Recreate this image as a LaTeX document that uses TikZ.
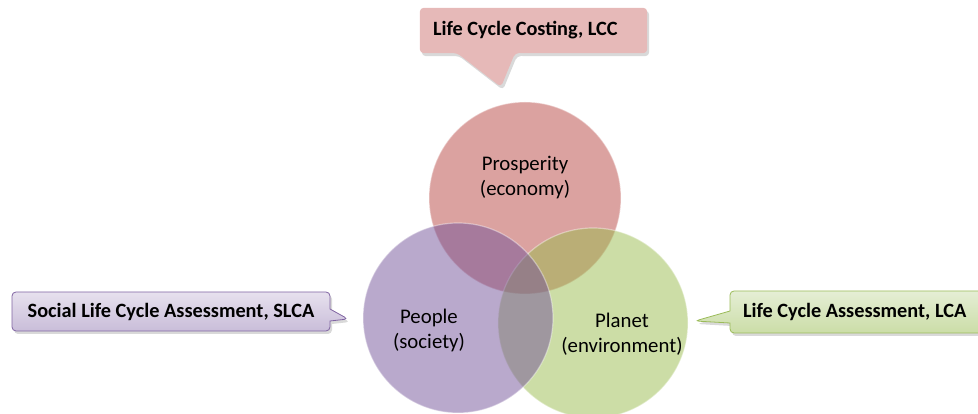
\documentclass[tikz,border=0pt]{standalone}
\usepackage{fontspec}
\setmainfont{Carlito}
\usetikzlibrary{shapes,shapes.callouts,shadows,backgrounds}

\definecolor{econfill}{RGB}{183,69,65}
\definecolor{socfill}{RGB}{115,83,153}
\definecolor{envfill}{RGB}{153,187,77}
\definecolor{lccfill}{RGB}{230,185,184}
\definecolor{slcatop}{RGB}{231,225,238}
\definecolor{slcabot}{RGB}{201,189,217}
\definecolor{slcaline}{RGB}{128,100,162}
\definecolor{lcatop}{RGB}{229,238,213}
\definecolor{lcabot}{RGB}{203,221,167}
\definecolor{lcaline}{RGB}{155,187,89}

\begin{document}
\begin{tikzpicture}[x=1pt,y=1pt,
  pillar/.style={circle,inner sep=0pt,minimum size=#1,fill opacity=0.5,draw=white,draw opacity=0.4,line width=1.2pt},
  pillartext/.style={align=center,font=\fontsize{20.8}{25}\selectfont},
  boxfont/.style={inner sep=0pt,font=\fontsize{20.3}{24}\selectfont\bfseries},
  boxshadow/.style={drop shadow={shadow xshift=2pt,shadow yshift=-3pt,opacity=0.3}},
  callbox/.style={rectangle callout,rounded corners=4pt,boxfont,boxshadow}]

  \useasboundingbox (0,0) rectangle (978,414);

  % the three pillars, purple one last so it lies on top
  \node [pillar=192, fill=econfill] (econ) at (525, 216) {};
  \node [pillar=190, fill=envfill] (env) at (593, 91) {};
  \node [pillar=190, fill=socfill] (soc) at (458, 96) {};

  \node [pillartext] (econtext) at (525, 236) {Prosperity\\(economy)};
  \node [pillartext] (soctext) at (429, 84) {People\\(society)};
  \node [pillartext] (envtext) at (622, 80) {Planet\\(environment)};

  % assessment callouts
  \node [boxfont, minimum width=227, minimum height=45, text width=201, align=flush left] (lcc) at (533.5, 383.5) {Life Cycle Costing, LCC};
  \begin{scope}[on background layer]
    \fill [lccfill, rounded corners=4pt, boxshadow]
      (lcc.north west) -- (lcc.north east) -- (lcc.south east)
      -- (515, 361) -- (501, 327) -- (457, 361) -- (lcc.south west) -- cycle;
  \end{scope}
  \node [callbox, draw=slcaline, line width=0.8pt, top color=slcatop, bottom color=slcabot,
    minimum width=318, minimum height=39,
    callout absolute pointer={(348,95)}, callout pointer width=12] (slca) at (171, 102.5) {Social Life Cycle Assessment, SLCA};
  \node [callbox, draw=lcaline, line width=0.8pt, top color=lcatop, bottom color=lcabot,
    minimum width=262, minimum height=42, text width=236, align=flush left,
    callout absolute pointer={(695,93)}, callout pointer width=12] (lca) at (861, 102) {Life Cycle Assessment, LCA};

\end{tikzpicture}
\end{document}
